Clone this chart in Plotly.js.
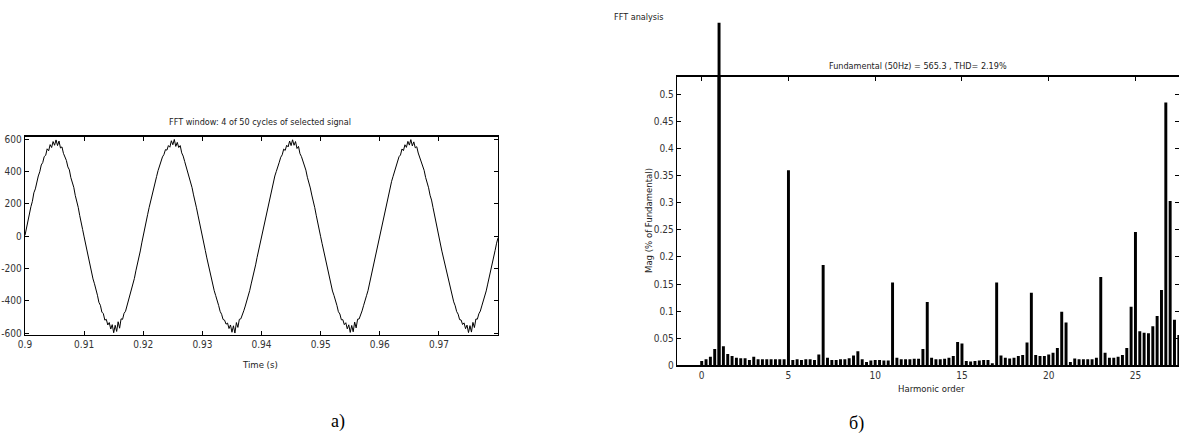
<!DOCTYPE html>
<html>
<head>
<meta charset="utf-8">
<script src="https://cdn.plot.ly/plotly-3.0.1.min.js"></script>
<style>
html,body{margin:0;padding:0;background:#fff;}
#chart{width:1179px;height:433px;}
</style>
</head>
<body>
<div id="chart"></div>
<script>
// ---- Data: FFT window signal (sampled every 0.25 ms from t = 0.9 s) ----
const signalStart = 0.9;
const signalStep = 0.00025;
const signalCycle1 = [5,52,95,128,182,215,268,292,340,372,398,440,455,492,500,540,528,566,548,585,562,595,560,588,545,552,512,490,468,428,410,362,338,302,252,222,178,128,92,40,
 -5,-50,-92,-130,-182,-214,-265,-295,-342,-366,-410,-428,-470,-480,-520,-515,-550,-535,-575,-548,-598,-552,-590,-530,-570,-512,-515,-478,-465,-430,-406,-368,-340,-294,-262,-215,-180,-130,-92,-42];
const signalCycle2 = [8,48,92,135,178,220,262,294,338,368,405,436,458,490,505,535,532,560,550,590,565,598,555,580,548,560,515,495,462,432,405,365,335,300,255,220,175,130,90,42,
 -3,-48,-90,-135,-180,-216,-262,-298,-338,-368,-408,-430,-466,-484,-516,-520,-545,-538,-572,-550,-595,-555,-600,-535,-565,-515,-512,-480,-462,-433,-404,-370,-337,-296,-260,-218,-178,-132,-90,-45];
const signalCycle3 = [2,46,90,130,180,217,265,295,336,372,400,438,457,488,503,538,530,562,552,588,560,596,562,585,542,555,510,492,465,430,408,364,336,298,254,221,176,129,91,44,
 -4,-47,-91,-132,-178,-217,-263,-296,-340,-367,-409,-429,-468,-482,-518,-517,-548,-536,-574,-549,-596,-553,-592,-532,-568,-514,-513,-479,-463,-431,-405,-369,-338,-295,-261,-216,-179,-131,-91,-43];
const signalCycle4 = [5,50,93,131,181,216,266,293,339,370,402,437,456,491,502,539,529,565,549,586,563,597,558,583,546,553,514,489,466,429,407,363,337,299,253,223,177,127,89,41,
 -6,-49,-93,-131,-181,-215,-264,-297,-339,-369,-407,-431,-467,-483,-517,-519,-547,-537,-573,-551,-597,-554,-594,-534,-566,-513,-514,-481,-464,-432,-403,-371,-339,-297,-259,-217,-177,-133,-89,-44,
 -10];

// ---- Data: FFT spectrum (harmonic order from 0 in steps of 0.25) ----
const harmonicStart = 0;
const harmonicStep = 0.25;
const magnitude = [
 0.008,0.011,0.016,0.030, 100, 0.035,0.021,0.017,            // 0 .. 1.75
 0.014,0.013,0.013,0.010, 0.016,0.011,0.011,0.011,           // 2 .. 3.75
 0.011,0.011,0.011,0.011, 0.360,0.010,0.011,0.010,           // 4 .. 5.75
 0.011,0.011,0.010,0.020, 0.185,0.014,0.010,0.010,           // 6 .. 7.75
 0.011,0.011,0.013,0.018, 0.026,0.011,0.006,0.009,           // 8 .. 9.75
 0.010,0.010,0.009,0.009, 0.153,0.014,0.011,0.011,           // 10 .. 11.75
 0.011,0.012,0.012,0.030, 0.117,0.014,0.011,0.011,           // 12 .. 13.75
 0.012,0.014,0.017,0.043, 0.040,0.008,0.007,0.008,           // 14 .. 15.75
 0.009,0.010,0.010,0.004, 0.153,0.018,0.014,0.0125,          // 16 .. 17.75
 0.014,0.017,0.019,0.042, 0.134,0.019,0.017,0.017,           // 18 .. 19.75
 0.020,0.023,0.032,0.099, 0.079,0.006,0.0125,0.011,          // 20 .. 21.75
 0.011,0.011,0.011,0.014, 0.163,0.023,0.014,0.014,           // 22 .. 23.75
 0.016,0.019,0.032,0.108, 0.246,0.063,0.060,0.059,           // 24 .. 25.75
 0.072,0.091,0.139,0.485, 0.303,0.084,0.056                  // 26 .. 27.5
];
const fundamentalOrder = [1];
const fundamentalMag = [100];

const leftXTicks = [0.9,0.91,0.92,0.93,0.94,0.95,0.96,0.97];
const leftYTicks = [-600,-400,-200,0,200,400,600];
const rightXTicks = [0,5,10,15,20,25];
const rightYTicks = [0,0.05,0.1,0.15,0.2,0.25,0.3,0.35,0.4,0.45,0.5];

const signal = [].concat(signalCycle1, signalCycle2, signalCycle3, signalCycle4);

// ---- Layout helpers (page pixels -> paper) ----
const W = 1179, H = 433;
const px = v => v / W;
const py = v => 1 - v / H;

const FONT = "Liberation Sans Narrow, DejaVu Sans Condensed, Arial Narrow, Liberation Sans, sans-serif";
const tickFont = {family: FONT, size: 10, color: '#333'};

const traces = [
  {
    type: 'scatter', mode: 'lines',
    x0: signalStart, dx: signalStep, y: signal,
    line: {color: '#000', width: 1},
    xaxis: 'x', yaxis: 'y', hoverinfo: 'skip'
  },
  {
    type: 'bar',
    x0: harmonicStart, dx: harmonicStep, y: magnitude,
    width: 0.17,
    marker: {color: '#000', line: {width: 0}},
    xaxis: 'x2', yaxis: 'y2', hoverinfo: 'skip'
  },
  {
    type: 'bar',
    x: fundamentalOrder, y: fundamentalMag,
    width: 0.17,
    marker: {color: '#000', line: {width: 0}},
    xaxis: 'x3', yaxis: 'y3', hoverinfo: 'skip'
  }
];

const axisCommon = {
  showgrid: false, zeroline: false,
  showline: true, linecolor: '#000', linewidth: 1.3, mirror: 'ticks',
  ticks: 'inside', ticklen: 4, tickcolor: '#000', tickwidth: 1,
  tickfont: tickFont, fixedrange: true
};

const layout = {
  width: W, height: H,
  margin: {l: 0, r: 0, t: 0, b: 0},
  paper_bgcolor: '#fff', plot_bgcolor: 'rgba(0,0,0,0)',
  showlegend: false,
  barmode: 'overlay',
  xaxis: Object.assign({}, axisCommon, {
    domain: [px(25), px(498)],
    range: [0.9, 0.97999],
    tickvals: leftXTicks, ticktext: leftXTicks.map(String),
    anchor: 'y'
  }),
  yaxis: Object.assign({}, axisCommon, {
    domain: [py(335), py(136.7)],
    range: [-612, 615],
    tickvals: leftYTicks, ticktext: leftYTicks.map(String),
    anchor: 'x'
  }),
  xaxis2: Object.assign({}, axisCommon, {
    domain: [px(677), 1],
    range: [-1.424, 27.51],
    tickvals: rightXTicks, ticktext: rightXTicks.map(String),
    anchor: 'y2'
  }),
  yaxis2: Object.assign({}, axisCommon, {
    domain: [py(365.3), py(76.7)],
    range: [0, 0.5325],
    tickvals: rightYTicks, ticktext: rightYTicks.map(String),
    anchor: 'x2'
  }),
  xaxis3: {
    domain: [px(677), 1], range: [-1.424, 27.51],
    visible: false, anchor: 'y3', fixedrange: true
  },
  yaxis3: {
    domain: [py(365.3), py(22.7)], range: [0, 0.632],
    visible: false, anchor: 'x3', fixedrange: true
  },
  annotations: [
    {text: 'FFT window: 4 of 50 cycles of selected signal', x: px(259.5), y: py(121.7),
     xref: 'paper', yref: 'paper', xanchor: 'center', yanchor: 'middle', showarrow: false,
     font: {family: FONT, size: 9, color: '#222'}},
    {text: 'Time (s)', x: px(260), y: py(364),
     xref: 'paper', yref: 'paper', xanchor: 'center', yanchor: 'middle', showarrow: false,
     font: {family: FONT, size: 9.5, color: '#222'}},
    {text: 'а)', x: px(338), y: py(421),
     xref: 'paper', yref: 'paper', xanchor: 'center', yanchor: 'middle', showarrow: false,
     font: {family: 'Liberation Serif, Times New Roman, serif', size: 18, color: '#000'}},
    {text: 'FFT analysis', x: px(612), y: py(17),
     xref: 'paper', yref: 'paper', xanchor: 'left', yanchor: 'middle', showarrow: false,
     font: {family: FONT, size: 9, color: '#222'}},
    {text: 'Fundamental (50Hz) = 565.3 , THD= 2.19%', x: px(918), y: py(66),
     xref: 'paper', yref: 'paper', xanchor: 'center', yanchor: 'middle', showarrow: false,
     font: {family: FONT, size: 9, color: '#222'}},
    {text: 'Mag (% of Fundamental)', x: px(648), y: py(221), textangle: -90,
     xref: 'paper', yref: 'paper', xanchor: 'center', yanchor: 'middle', showarrow: false,
     font: {family: FONT, size: 9.5, color: '#222'}},
    {text: 'Harmonic order', x: px(931), y: py(388.7),
     xref: 'paper', yref: 'paper', xanchor: 'center', yanchor: 'middle', showarrow: false,
     font: {family: FONT, size: 9.5, color: '#222'}},
    {text: 'б)', x: px(856), y: py(423),
     xref: 'paper', yref: 'paper', xanchor: 'center', yanchor: 'middle', showarrow: false,
     font: {family: 'Liberation Serif, Times New Roman, serif', size: 18, color: '#000'}}
  ]
};

Plotly.newPlot('chart', traces, layout, {staticPlot: true, displayModeBar: false});
</script>
</body>
</html>
